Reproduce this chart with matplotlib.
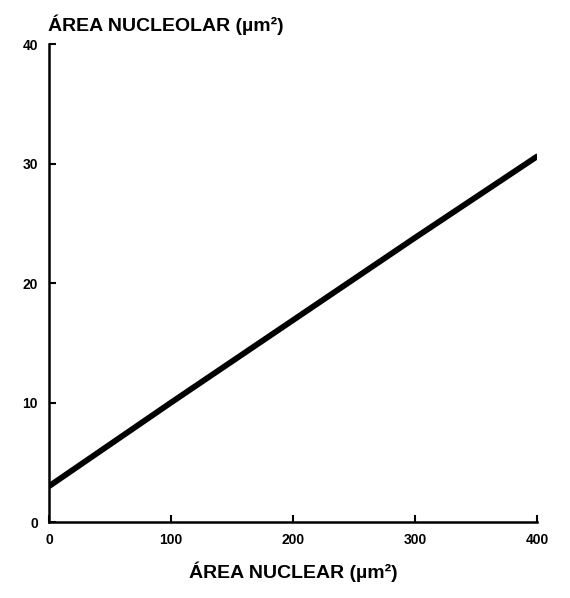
import matplotlib
matplotlib.use('Agg')
import matplotlib.pyplot as plt

# regression line: nucleolar area vs nuclear area
nuclear_area = [0, 100, 200, 300, 400]
nucleolar_area = [3.0, 10.0, 16.9, 23.8, 30.6]
xticks = [0, 100, 200, 300, 400]
yticks = [0, 10, 20, 30, 40]

plt.rcParams['font.family'] = ['Liberation Sans', 'DejaVu Sans']

fig = plt.figure(figsize=(5.7, 5.98), dpi=100)
ax = fig.add_axes([0.086, 0.127, 0.856, 0.799])

ax.plot(nuclear_area, nucleolar_area, '-', color='k', lw=4.2, solid_capstyle='round')

ax.set_xlim(0, 400)
ax.set_ylim(0, 40)
ax.set_xticks(xticks)
ax.set_yticks(yticks)
ax.set_xticklabels([str(v) for v in xticks], fontsize=10, fontweight='bold')
ax.set_yticklabels([str(v) for v in yticks], fontsize=10, fontweight='bold')
ax.tick_params(direction='in', length=5, width=1.5, pad=8)
for s in ['top', 'right']:
    ax.spines[s].set_visible(False)
for s in ['left', 'bottom']:
    ax.spines[s].set_linewidth(1.8)

ax.set_xlabel('ÁREA NUCLEAR (µm²)', fontsize=14, fontweight='bold', labelpad=10)
fig.text(0.084, 0.948, 'ÁREA NUCLEOLAR (µm²)', fontsize=14, fontweight='bold',
         ha='left', va='baseline')

fig.savefig('out.png', dpi=100)
